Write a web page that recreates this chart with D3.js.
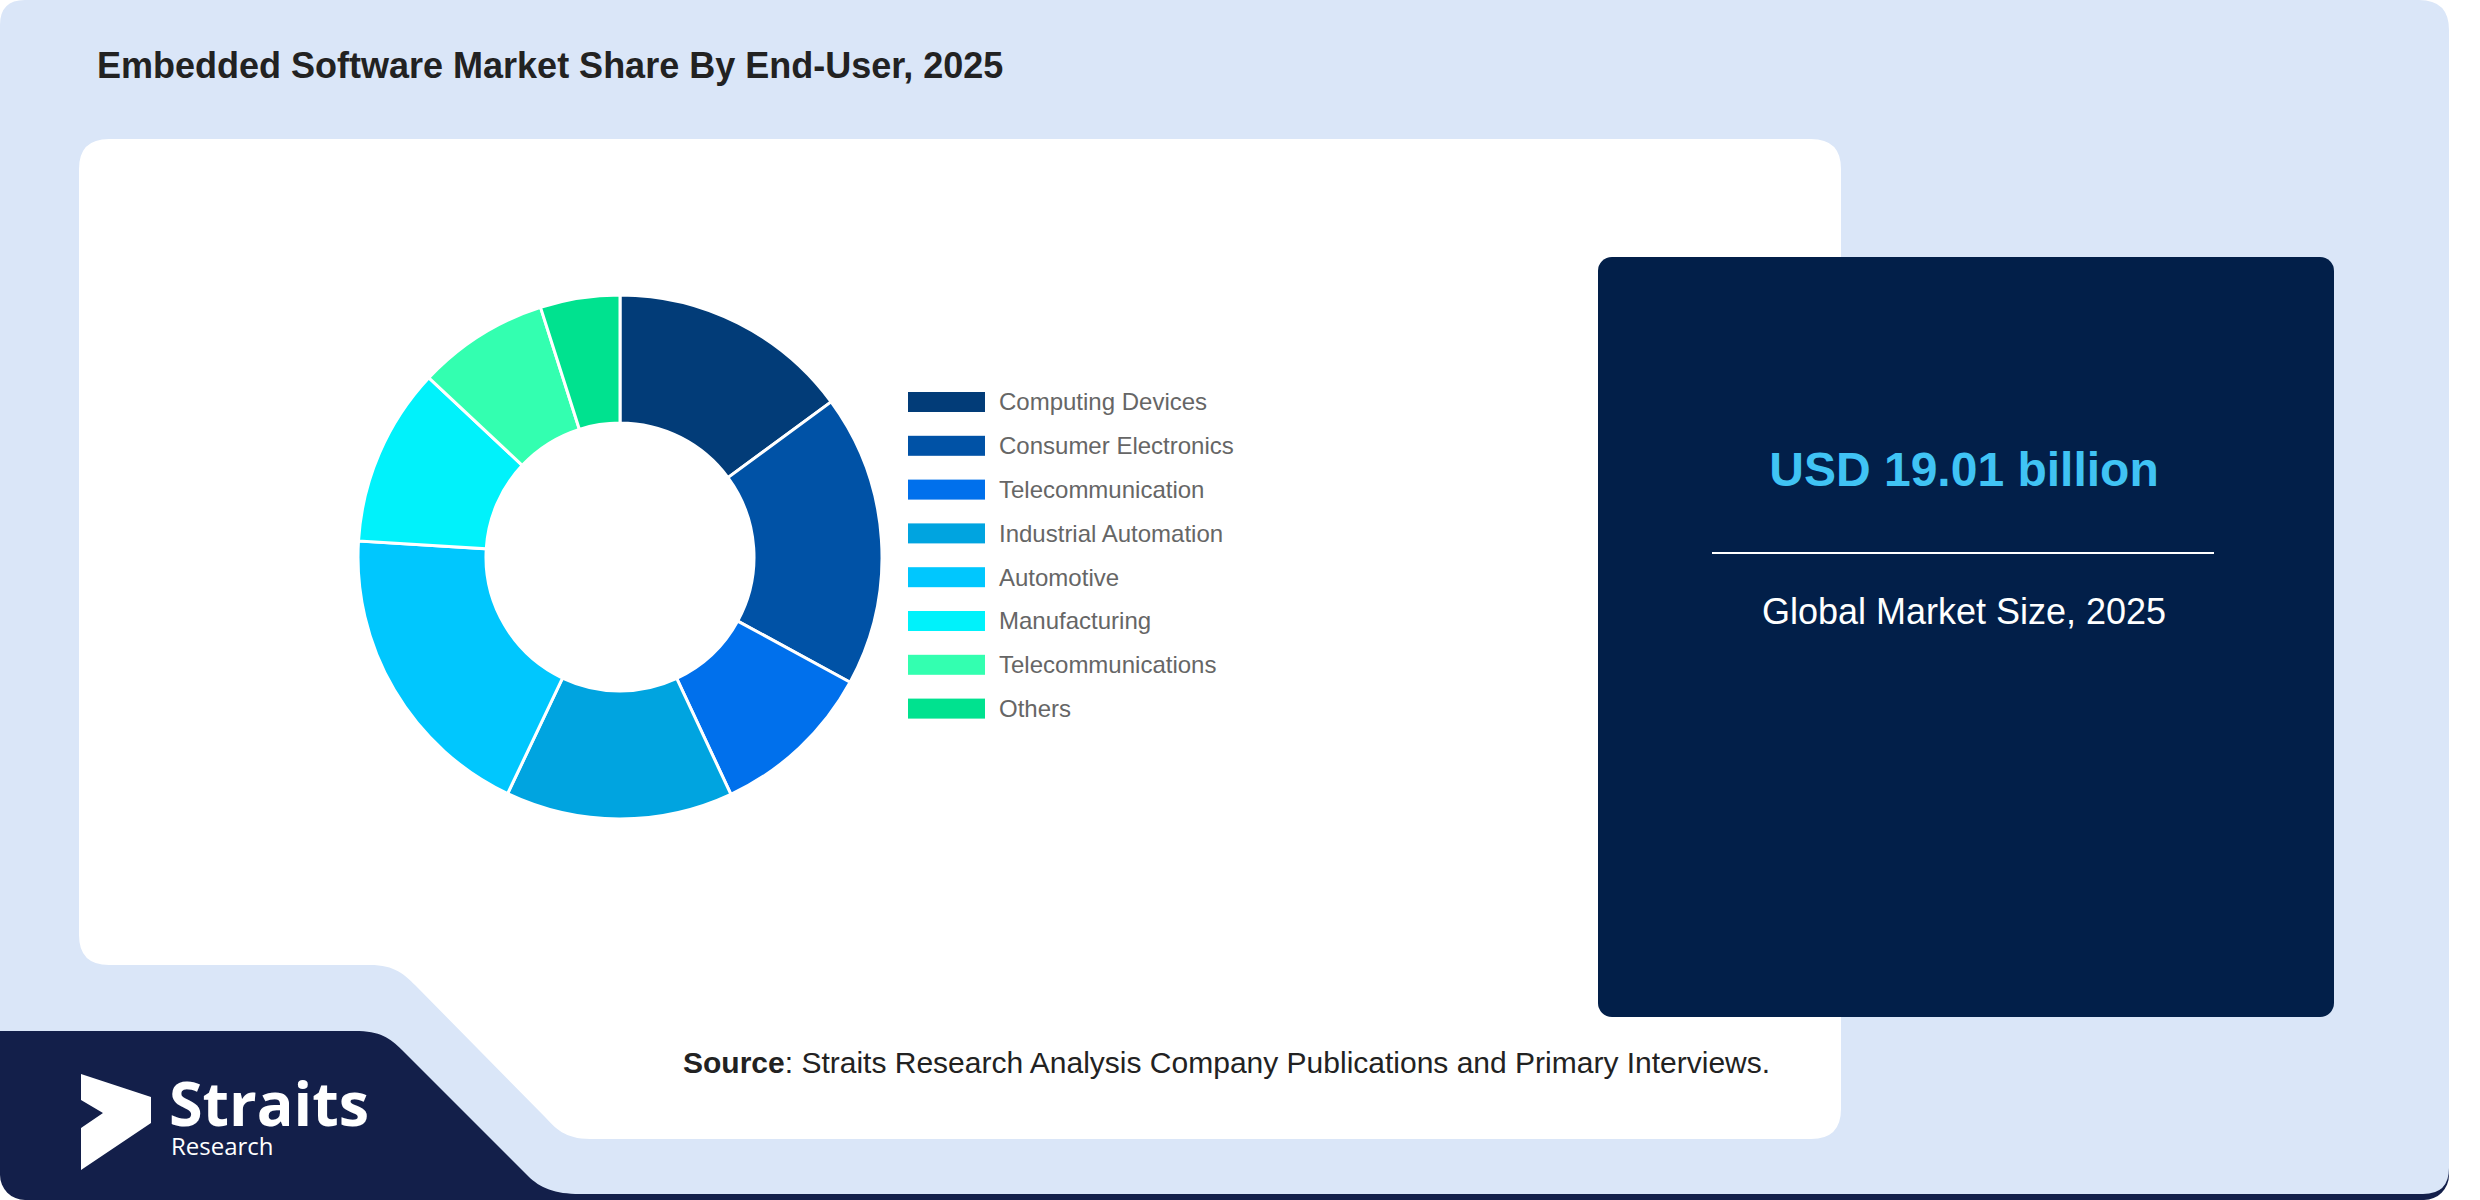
<!DOCTYPE html>
<html>
<head>
<meta charset="utf-8">
<title>Embedded Software Market Share By End-User, 2025</title>
<script src="https://cdn.jsdelivr.net/npm/d3@7/dist/d3.min.js"></script>
<style>
  body { margin: 0; background: #fff; overflow: hidden; }
  svg { font-family: "Liberation Sans", Arial, sans-serif; }
</style>
</head>
<body>
<div id="chart"></div>
<script>
// data (share in %)
var categories = ["Computing Devices", "Consumer Electronics", "Telecommunication", "Industrial Automation",
                  "Automotive", "Manufacturing", "Telecommunications", "Others"];
var shares = [14.9, 18.0, 10.1, 14.0, 18.9, 11.0, 8.1, 4.9];
var colors = ["#023c78", "#0052a6", "#0070ec", "#00a4e0", "#00c7fe", "#00f2fb", "#33ffb0", "#00e28f"];
var titleText = "Embedded Software Market Share By End-User, 2025";
var marketValue = "USD 19.01 billion";
var marketLabel = "Global Market Size, 2025";

var W = 2480, H = 1200;
var svg = d3.select("#chart").append("svg")
    .attr("width", W).attr("height", H);

// bottom navy strip + light blue card
svg.append("rect")
    .attr("x", 0).attr("y", 900).attr("width", 2449).attr("height", 300)
    .attr("rx", 25).attr("fill", "#131f4a");

svg.append("path")
    .attr("fill", "#dae6f8")
    .attr("d", "M0,25 Q0,0 25,0 H2419 Q2449,0 2449,30 V1168 Q2449,1194 2423,1194 H580 " +
               "C555,1194 540,1188 528,1176 L402,1050 C390,1038 380,1031 355,1031 H0 Z");

// white chart panel
svg.append("path")
    .attr("fill", "#ffffff")
    .attr("d", "M109,139 H1811 Q1841,139 1841,169 V1109 Q1841,1139 1811,1139 H590 " +
               "C565,1139 555,1128 545,1117 L415,985 C405,975 395,965 370,965 H109 Q79,965 79,935 V169 Q79,139 109,139 Z");

// title
svg.append("text")
    .attr("x", 97).attr("y", 78)
    .attr("font-size", 36).attr("font-weight", "bold").attr("fill", "#222")
    .text(titleText);

// donut
var cx = 620, cy = 557;
var pie = d3.pie().sort(null).value(function (d) { return d; });
var arc = d3.arc().innerRadius(134).outerRadius(262);

var g = svg.append("g").attr("transform", "translate(" + cx + "," + cy + ")");
g.selectAll("path")
    .data(pie(shares))
    .enter().append("path")
    .attr("d", arc)
    .attr("fill", function (d, i) { return colors[i]; })
    .attr("stroke", "#fff")
    .attr("stroke-width", 3);

// legend
var legend = svg.append("g").attr("transform", "translate(908,402)");
var rows = legend.selectAll("g")
    .data(categories)
    .enter().append("g")
    .attr("transform", function (d, i) { return "translate(0," + (i * 43.8) + ")"; });
rows.append("rect")
    .attr("x", 0).attr("y", -10).attr("width", 77).attr("height", 20)
    .attr("fill", function (d, i) { return colors[i]; });
rows.append("text")
    .attr("x", 91).attr("y", 0).attr("dy", "0.35em")
    .attr("font-size", 24).attr("fill", "#666")
    .text(function (d) { return d; });

// market size box
svg.append("rect")
    .attr("x", 1598).attr("y", 257).attr("width", 736).attr("height", 760)
    .attr("rx", 14).attr("fill", "#021f49");
svg.append("text")
    .attr("x", 1964).attr("y", 486).attr("text-anchor", "middle")
    .attr("font-size", 48).attr("font-weight", "bold").attr("fill", "#40c3f4")
    .text(marketValue);
svg.append("line")
    .attr("x1", 1712).attr("x2", 2214).attr("y1", 553).attr("y2", 553)
    .attr("stroke", "#fff").attr("stroke-width", 2);
svg.append("text")
    .attr("x", 1964).attr("y", 624).attr("text-anchor", "middle")
    .attr("font-size", 36).attr("fill", "#fff")
    .text(marketLabel);

// source line
var src = svg.append("text")
    .attr("x", 683).attr("y", 1073)
    .attr("font-size", 30).attr("fill", "#222");
src.append("tspan").attr("font-weight", "bold").text("Source");
src.append("tspan").text(": Straits Research Analysis Company Publications and Primary Interviews.");

// logo (icon + two-line wordmark in one text)
svg.append("path")
    .attr("fill", "#fff")
    .attr("d", "M81,1074 L151,1097 L151,1123 L81,1170 L81,1128 L103,1113 L81,1100 Z");
var logo = svg.append("text")
    .style("font-family", "'Open Sans', sans-serif")
    .attr("fill", "#fff");
logo.append("tspan")
    .attr("x", 169).attr("y", 1126)
    .attr("font-size", 61).attr("font-weight", "bold")
    .text("Straits");
logo.append("tspan")
    .attr("x", 171).attr("y", 1155)
    .attr("font-size", 24)
    .text("Research");
</script>
</body>
</html>
